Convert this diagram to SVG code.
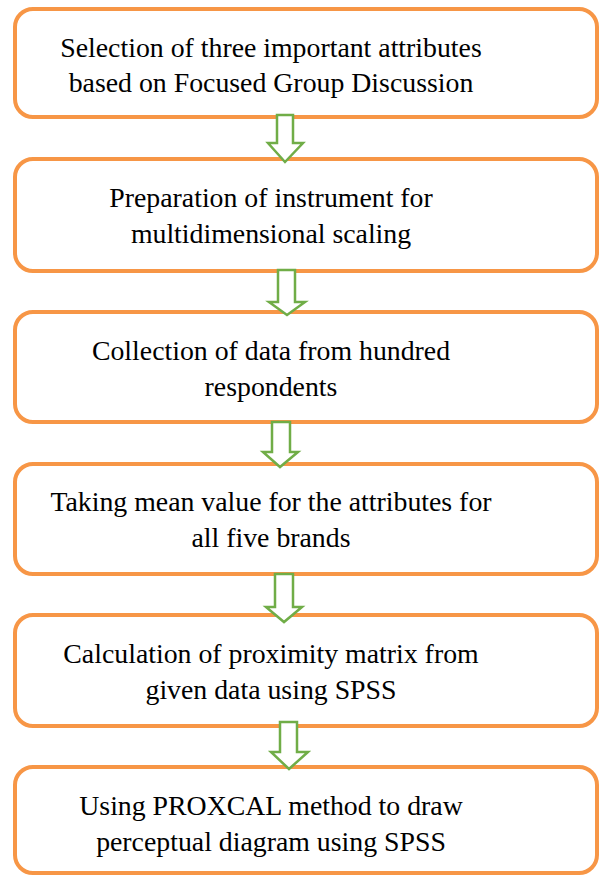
<svg xmlns="http://www.w3.org/2000/svg" width="599" height="875" viewBox="0 0 599 875">
<style>
.box{fill:#fff;stroke:#F79646;stroke-width:4}
.arr{fill:#fff;stroke:#70AD47;stroke-width:2.5;stroke-linejoin:miter}
.t{font-size:27.8px;fill:#000;text-anchor:middle}
</style>
<rect width="599" height="875" fill="#fff"/>
<g font-family="Liberation Serif">
<g id="n1"><rect class="box" x="15" y="9" width="582" height="108" rx="18"/>
<text class="t" x="271" y="57">Selection of three important attributes</text>
<text class="t" x="271" y="92">based on Focused Group Discussion</text></g>
<g id="n2"><rect class="box" x="15" y="159" width="582" height="112" rx="18"/>
<text class="t" x="271" y="207">Preparation of instrument for</text>
<text class="t" x="271" y="243">multidimensional scaling</text></g>
<g id="n3"><rect class="box" x="15" y="312" width="582" height="110" rx="18"/>
<text class="t" x="271" y="360">Collection of data from hundred</text>
<text class="t" x="271" y="396">respondents</text></g>
<g id="n4"><rect class="box" x="15" y="464" width="582" height="110" rx="18"/>
<text class="t" x="271" y="511">Taking mean value for the attributes for</text>
<text class="t" x="271" y="547">all five brands</text></g>
<g id="n5"><rect class="box" x="15" y="615" width="582" height="111" rx="18"/>
<text class="t" x="271" y="663">Calculation of proximity matrix from</text>
<text class="t" x="271" y="699">given data using SPSS</text></g>
<g id="n6"><rect class="box" x="15" y="767" width="582" height="106" rx="18"/>
<text class="t" x="271" y="815">Using PROXCAL method to draw</text>
<text class="t" x="271" y="851">perceptual diagram using SPSS</text></g>
</g>
<g id="connectors">
<path class="arr" d="M277,115 H293 V143 H303 L285,162 L268,143 H277 Z"/>
<path class="arr" d="M278,270 H295 V302 H305 L287,315 L269,302 H278 Z"/>
<path class="arr" d="M272,422 H290 V452 H298 L280,467 L263,452 H272 Z"/>
<path class="arr" d="M275,574 H293 V607 H302 L284,622 L266,607 H275 Z"/>
<path class="arr" d="M280,722 H297 V752 H308 L289,769 L271,752 H280 Z"/>
</g>
</svg>
